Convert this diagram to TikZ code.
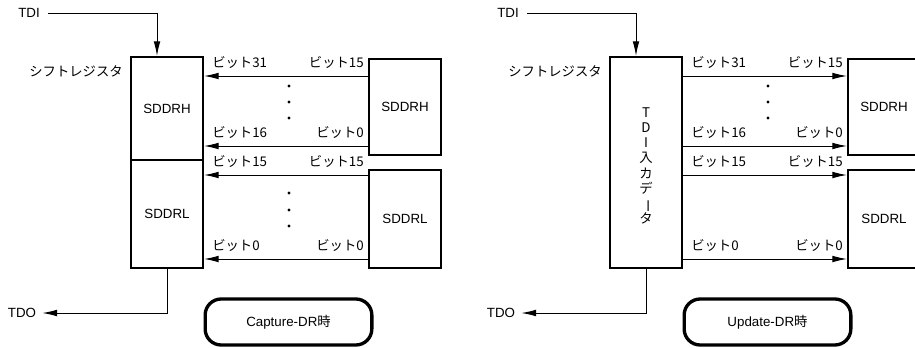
\documentclass[tikz,border=0pt]{standalone}
\usepackage{fontspec}
\setmainfont{Liberation Sans}
\newfontfamily\jp{Noto Sans CJK JP}
\usetikzlibrary{arrows.meta}

\tikzset{
  reg/.style={draw, line width=1.5pt, inner sep=0pt},
  lbl/.style={inner sep=0pt, font=\jp},
  arr/.style={line width=0.75pt, -{Latex[length=11pt,width=5pt]}},
  phase/.style={draw, line width=2.5pt, rounded corners=12pt,
    minimum width=125pt, minimum height=34.5pt}
}

\begin{document}
\begin{tikzpicture}[x=0.75pt, y=-0.75pt, font=\fontsize{10}{12}\selectfont,
    every node/.style={inner sep=0pt}]
    \clip (0,0) rectangle (915,347);
    % Capture-DR
    \node (tdiL) at (29,13) {TDI};
    \node[lbl, anchor=east] (srL) at (123,71) {シフトレジスタ};
    \node[reg, minimum width=54pt, minimum height=77.25pt] (lsrH) at (167,108.5) {SDDRH};
    \node[reg, minimum width=54pt, minimum height=81pt] (lsrL) at (167,214) {SDDRL};
    \node[reg, minimum width=54pt, minimum height=72pt] (lH) at (405,107) {SDDRH};
    \node[reg, minimum width=54pt, minimum height=73.5pt] (lL) at (405,219) {SDDRL};
    \node (tdoL) at (22,313) {TDO};
    \node[phase] (cap) at (288.5,322) {Capture-DR{\jp 時}};
    \draw[arr] ([xshift=6pt]tdiL.east) -| ([xshift=-7.5pt]lsrH.north);
    \draw[arr] (lsrL.south) |- ([xshift=4.5pt]tdoL.east);
    \draw[arr] (lH.west |- 0,76) -- (lsrH.east |- 0,76);
    \draw[arr] (lH.west |- 0,146) -- (lsrH.east |- 0,146);
    \draw[arr] (lL.west |- 0,175) -- (lsrL.east |- 0,175);
    \draw[arr] (lL.west |- 0,259) -- (lsrL.east |- 0,259);
    \node[lbl, anchor=west] (l31) at (212,63) {ビット31};
    \node[lbl, anchor=east] (l15a) at (364,63) {ビット15};
    \node[lbl, anchor=west] (l16) at (212,133) {ビット16};
    \node[lbl, anchor=east] (l0a) at (364,133) {ビット0};
    \node[lbl, anchor=west] (l15b) at (212,162) {ビット15};
    \node[lbl, anchor=east] (l15c) at (364,162) {ビット15};
    \node[lbl, anchor=west] (l0b) at (212,246) {ビット0};
    \node[lbl, anchor=east] (l0c) at (364,246) {ビット0};
    \foreach \y in {86,102,118,193,210,226}
      \fill (289,\y) circle (1.2pt);

    % Update-DR
    \node (tdiR) at (508,13) {TDI};
    \node[lbl, anchor=east] (srR) at (602,71) {シフトレジスタ};
    \node[reg, minimum width=54pt, minimum height=158.25pt] (rsr) at (646,162.5) {};
    \node[lbl, align=center, font=\jp\fontsize{10}{11.4}\selectfont] (tdidata) at (646,166)
      {T\\D\\I\\入\\カ\\デ\\\rotatebox[origin=c]{-90}{ー}\\タ};
    \node[reg, minimum width=54pt, minimum height=72pt] (rH) at (884,107) {SDDRH};
    \node[reg, minimum width=54pt, minimum height=73.5pt] (rL) at (884,219) {SDDRL};
    \node (tdoR) at (501,313) {TDO};
    \node[phase] (upd) at (767.5,322) {Update-DR{\jp 時}};
    \draw[arr] ([xshift=6pt]tdiR.east) -| ([xshift=-7.5pt]rsr.north);
    \draw[arr] (rsr.south) |- ([xshift=4.5pt]tdoR.east);
    \draw[arr] (rsr.east |- 0,76) -- (rH.west |- 0,76);
    \draw[arr] (rsr.east |- 0,146) -- (rH.west |- 0,146);
    \draw[arr] (rsr.east |- 0,175) -- (rL.west |- 0,175);
    \draw[arr] (rsr.east |- 0,259) -- (rL.west |- 0,259);
    \node[lbl, anchor=west] (r31) at (691,63) {ビット31};
    \node[lbl, anchor=east] (r15a) at (843,63) {ビット15};
    \node[lbl, anchor=west] (r16) at (691,133) {ビット16};
    \node[lbl, anchor=east] (r0a) at (843,133) {ビット0};
    \node[lbl, anchor=west] (r15b) at (691,162) {ビット15};
    \node[lbl, anchor=east] (r15c) at (843,162) {ビット15};
    \node[lbl, anchor=west] (r0b) at (691,246) {ビット0};
    \node[lbl, anchor=east] (r0c) at (843,246) {ビット0};
    \foreach \y in {86,102,118}
      \fill (768,\y) circle (1.2pt);
\end{tikzpicture}
\end{document}
